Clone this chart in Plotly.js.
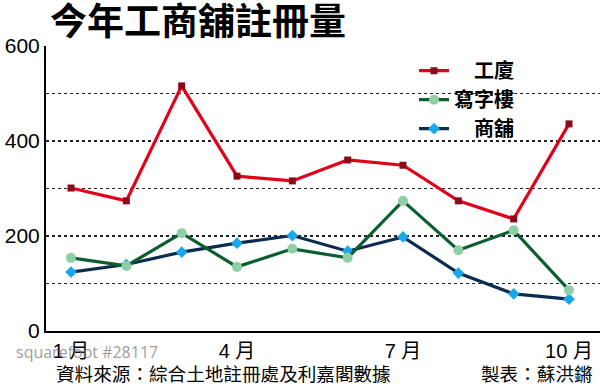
<!DOCTYPE html>
<html>
<head>
<meta charset="utf-8">
<script src="https://cdn.plot.ly/plotly-3.0.1.min.js"></script>
<style>html,body{margin:0;padding:0;background:#fff;}#chart{width:600px;height:386px;}</style>
</head>
<body>
<div id="chart"></div>
<script>
const months = [1, 2, 3, 4, 5, 6, 7, 8, 9, 10];
const tickMonths = [1, 4, 7, 10];
const tickLabels = ['1 月', '4 月', '7 月', '10 月'];
const yTicks = [0, 100, 200, 300, 400, 500, 600];
const yTickLabels = ['0', '', '200', '', '400', '', '600'];
const seriesNames = ['　工廈', '寫字樓', '　商舖'];
const industrial = [301, 274, 516, 326, 316, 360, 349, 274, 236, 436];
const office = [154, 137, 206, 135, 173, 154, 274, 170, 212, 86];
const shops = [124, 140, 166, 185, 201, 168, 198, 122, 78, 67];

const cjk = '"Noto Sans CJK TC", "Noto Sans CJK SC", sans-serif';
const num = '"Liberation Sans", Arial, "Noto Sans CJK TC", sans-serif';

const traces = [
  {
    x: months, y: industrial, name: seriesNames[0], type: 'scatter', mode: 'lines+markers',
    line: {color: '#e2001a', width: 3.2},
    marker: {symbol: 'square', size: 7, color: '#8a0a1c'},
    legendrank: 1
  },
  {
    x: months, y: shops, name: seriesNames[2], type: 'scatter', mode: 'lines+markers',
    line: {color: '#0b2c50', width: 3.2},
    marker: {symbol: 'diamond', size: 9, color: '#1aa8ec'},
    legendrank: 3
  },
  {
    x: months, y: office, name: seriesNames[1], type: 'scatter', mode: 'lines+markers',
    line: {color: '#0b5e30', width: 3.2},
    marker: {symbol: 'circle', size: 10, color: '#8ecfa6'},
    legendrank: 2
  }
];

const layout = {
  width: 600, height: 386,
  margin: {l: 46, r: 0, t: 46, b: 55},
  paper_bgcolor: '#ffffff', plot_bgcolor: '#ffffff',
  showlegend: true,
  xaxis: {
    range: [0.548, 10.56],
    tickvals: tickMonths, ticktext: tickLabels,
    showgrid: false, zeroline: false,
    showline: true, linecolor: '#000', linewidth: 2,
    ticks: '', ticklabelstandoff: 1,
    tickfont: {family: num, size: 20, color: '#000'}
  },
  yaxis: {
    range: [0, 600],
    tickvals: yTicks, ticktext: yTickLabels,
    showgrid: true, gridcolor: '#222', gridwidth: 1.3, griddash: 'dot',
    zeroline: false,
    showline: true, linecolor: '#000', linewidth: 2,
    ticks: '', ticklabelstandoff: 0,
    tickfont: {family: num, size: 21, color: '#000'}
  },
  legend: {
    x: (414 - 46) / 554, xanchor: 'left',
    y: 0.982, yanchor: 'top',
    bgcolor: 'rgba(0,0,0,0)',
    font: {family: cjk, size: 20, color: '#000', weight: 'bold'},
    tracegroupgap: 0
  },
  shapes: [
    {type: 'rect', xref: 'paper', yref: 'paper', x0: 0.549, x1: 1, y0: 0.681, y1: 0.968,
     fillcolor: '#ffffff', line: {width: 0}, layer: 'between'}
  ],
  annotations: [
    {text: '<b>今年工商舖註冊量</b>', xref: 'paper', yref: 'paper',
     x: (48 - 46) / 554, y: (331 - 19) / 285, xanchor: 'left', yanchor: 'middle',
     showarrow: false, font: {family: cjk, size: 37, color: '#000', weight: 900}},
    {text: '資料來源：綜合土地註冊處及利嘉閣數據', xref: 'paper', yref: 'paper',
     x: (54 - 46) / 554, y: (331 - 372) / 285, xanchor: 'left', yanchor: 'middle',
     showarrow: false, font: {family: cjk, size: 18.6, color: '#000'}},
    {text: '製表：蘇洪鏘', xref: 'paper', yref: 'paper',
     x: (595 - 46) / 554, y: (331 - 372) / 285, xanchor: 'right', yanchor: 'middle',
     showarrow: false, font: {family: cjk, size: 18.6, color: '#000'}},
    {text: 'squarefoot #28117', xref: 'paper', yref: 'paper',
     x: (14 - 46) / 554, y: (331 - 352) / 285, xanchor: 'left', yanchor: 'middle',
     showarrow: false, font: {family: '"Open Sans", "Noto Sans", sans-serif', size: 16, color: 'rgba(130,130,130,0.8)'}}
  ]
};

Plotly.newPlot('chart', traces, layout, {displayModeBar: false, staticPlot: true});
</script>
</body>
</html>
